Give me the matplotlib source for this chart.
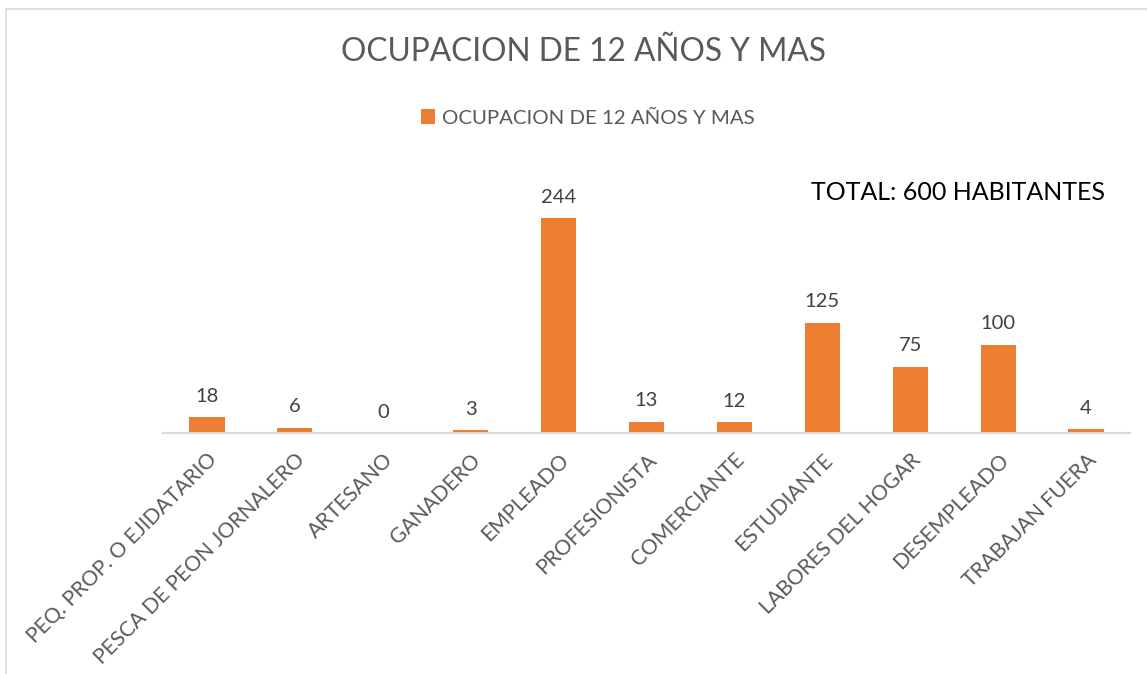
import matplotlib.pyplot as plt
from matplotlib.patches import Rectangle

categories = ['PEQ. PROP. O EJIDATARIO', 'PESCA DE PEON JORNALERO', 'ARTESANO',
              'GANADERO', 'EMPLEADO', 'PROFESIONISTA', 'COMERCIANTE', 'ESTUDIANTE',
              'LABORES DEL HOGAR', 'DESEMPLEADO', 'TRABAJAN FUERA']
values = [18, 6, 0, 3, 244, 13, 12, 125, 75, 100, 4]
series_name = 'OCUPACION DE 12 AÑOS Y MAS'
title = 'OCUPACION DE 12 AÑOS Y MAS'
note = 'TOTAL: 600 HABITANTES'

ORANGE = '#ed7d31'
GREY = '#595959'
W, H = 1147, 674

plt.rcParams['font.family'] = ['Lato', 'DejaVu Sans']

fig = plt.figure(figsize=(W / 100, H / 100), dpi=100)

# chart frame
fig.patches.append(Rectangle((6 / W, -0.2), 1.2, 1.2 - 9 / H, transform=fig.transFigure,
                             fill=False, edgecolor='#d9d9d9', linewidth=1.2))

left, right, base, top = 163, 1130, 433, 160
ax = fig.add_axes([left / W, 1 - base / H, (right - left) / W, (base - top) / H])
x = range(len(categories))
bars = ax.bar(x, values, width=0.4, color=ORANGE, label=series_name)
ax.set_xlim(-0.5, len(categories) - 0.5)
ax.set_ylim(0, (base - top) / 0.881)

for rect, v in zip(bars, values):
    ax.annotate(str(v), (rect.get_x() + rect.get_width() / 2, v),
                xytext=(0, 9), textcoords='offset points',
                ha='center', va='bottom', fontsize=14.5, color='#404040')

for s in ['top', 'right', 'left']:
    ax.spines[s].set_visible(False)
ax.spines['bottom'].set_color('#d9d9d9')
ax.spines['bottom'].set_linewidth(1.5)
ax.set_yticks([])
ax.set_xticks(list(x))
ax.set_xticklabels(categories, rotation=45, ha='right', va='top',
                   rotation_mode='anchor', fontsize=15.2, color=GREY)
ax.tick_params(axis='x', length=0, pad=12)

fig.text(583 / W, 1 - 52 / H, title, ha='center', va='center',
         fontsize=22.8, color=GREY)

fig.legend(handles=[bars], labels=[series_name], loc='center',
           bbox_to_anchor=(588 / W, 1 - 118 / H), frameon=False,
           fontsize=14.7, labelcolor=GREY, handlelength=0.7, handleheight=0.7,
           handletextpad=0.35)

fig.text(958 / W, 1 - 192 / H, note, ha='center', va='center',
         fontsize=18, color='black')

fig.savefig('out.png', dpi=100)
